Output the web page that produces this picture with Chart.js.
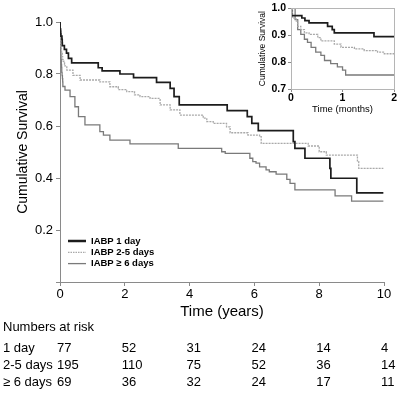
<!DOCTYPE html>
<html><head><meta charset="utf-8">
<script src="https://cdn.jsdelivr.net/npm/chart.js@4/dist/chart.umd.min.js"></script>
<style>
html,body{margin:0;padding:0;background:#fff;overflow:hidden;}
#wrap{position:relative;width:397px;height:394px;overflow:hidden;}
#main{position:absolute;left:0;top:0;width:397px;height:394px;}
#inset{position:absolute;left:250px;top:0;width:147px;height:118px;}
</style></head><body>
<div id="wrap">
<canvas id="main" width="397" height="394"></canvas>
<canvas id="inset" width="147" height="118"></canvas>
</div>
<script>
// ---- Data ----
const seriesNames = ['IABP 1 day', 'IABP 2-5 days', 'IABP \u2265 6 days'];

// Main chart (time in years)
const yearsDay1 = [0, 0.002, 0.018, 0.023, 0.029, 0.059, 0.068, 0.071, 0.135, 0.2, 0.26, 0.36, 1.18, 1.3, 1.85, 2.27, 2.98, 3.40, 3.52, 3.68, 5.16, 5.78, 5.92, 6.12, 7.20, 7.25, 7.56, 8.33, 8.36, 9.16, 9.98];
const survDay1  = [1.0, 0.973, 0.964, 0.954, 0.946, 0.933, 0.921, 0.909, 0.895, 0.88, 0.86, 0.843, 0.824, 0.812, 0.80, 0.786, 0.768, 0.745, 0.713, 0.681, 0.659, 0.636, 0.61, 0.582, 0.54, 0.514, 0.476, 0.437, 0.399, 0.343, 0.343];

const yearsDay25 = [0, 0.003, 0.008, 0.011, 0.016, 0.022, 0.029, 0.043, 0.048, 0.07, 0.081, 0.1, 0.118, 0.14, 0.15, 0.21, 0.4, 0.62, 1.23, 1.54, 1.8, 2.06, 2.3, 2.47, 2.78, 3.09, 3.40, 3.70, 4.42, 4.53, 4.73, 5.14, 5.25, 5.8, 6.16, 6.21, 7.66, 8.0, 8.22, 9.18, 9.22, 9.98];
const survDay25  = [1.0, 0.964, 0.952, 0.933, 0.921, 0.909, 0.903, 0.891, 0.879, 0.867, 0.855, 0.849, 0.843, 0.837, 0.831, 0.815, 0.795, 0.777, 0.77, 0.751, 0.74, 0.732, 0.72, 0.713, 0.706, 0.681, 0.662, 0.642, 0.63, 0.617, 0.61, 0.597, 0.574, 0.565, 0.559, 0.533, 0.523, 0.501, 0.488, 0.463, 0.437, 0.437];

const yearsDay6 = [0, 0.007, 0.011, 0.016, 0.022, 0.027, 0.033, 0.04, 0.048, 0.054, 0.064, 0.075, 0.083, 0.088, 0.154, 0.31, 0.46, 0.57, 0.77, 1.23, 1.34, 1.54, 2.16, 3.65, 4.99, 5.1, 5.86, 5.95, 6.05, 6.16, 6.36, 6.46, 6.67, 7.0, 7.1, 7.25, 8.49, 9.0, 9.98];
const survDay6  = [1.0, 0.958, 0.921, 0.903, 0.885, 0.873, 0.855, 0.837, 0.825, 0.806, 0.794, 0.782, 0.770, 0.752, 0.738, 0.713, 0.674, 0.636, 0.604, 0.578, 0.565, 0.546, 0.531, 0.514, 0.501, 0.495, 0.476, 0.463, 0.457, 0.443, 0.431, 0.424, 0.415, 0.395, 0.379, 0.354, 0.331, 0.311, 0.311];

// Inset (time in months)
const monthsDay1 = [0, 0.01, 0.21, 0.27, 0.35, 0.71, 0.80, 0.84, 1.61, 2.0];
const insetDay1  = [1.0, 0.973, 0.964, 0.954, 0.946, 0.933, 0.921, 0.909, 0.895, 0.895];
const monthsDay25 = [0, 0.03, 0.1, 0.13, 0.19, 0.26, 0.35, 0.52, 0.58, 0.84, 0.97, 1.23, 1.42, 1.68, 1.81, 2.0];
const insetDay25  = [1.0, 0.964, 0.952, 0.933, 0.921, 0.909, 0.903, 0.891, 0.879, 0.867, 0.855, 0.849, 0.843, 0.837, 0.831, 0.831];
const monthsDay6 = [0, 0.08, 0.13, 0.19, 0.26, 0.32, 0.39, 0.48, 0.58, 0.65, 0.77, 0.9, 1.0, 1.06, 2.0];
const insetDay6  = [1.0, 0.958, 0.921, 0.903, 0.885, 0.873, 0.855, 0.837, 0.825, 0.806, 0.794, 0.782, 0.770, 0.752, 0.752];

// Numbers at risk
const riskTitle = 'Numbers at risk';
const riskTimes = [0, 2, 4, 6, 8, 10];
const riskLabels = ['1 day', '2-5 days', '\u2265 6 days'];
const riskDay1 = [77, 52, 31, 24, 14, 4];
const riskDay25 = [195, 110, 75, 52, 36, 14];
const riskDay6 = [69, 36, 32, 24, 17, 11];

// ---- Styles ----
const FONT = "'Liberation Sans', Arial, Helvetica, sans-serif";
const colors = ['#1c1c1c', '#a9a9a9', '#7a7a7a'];
const widths = [1.7, 1.3, 1.3];
const dashes = [[], [2, 1], []];

function pts(xs, ys) { return xs.map((x, i) => ({x: x, y: ys[i]})); }
function makeDatasets(sets) {
  return sets.map((s, i) => ({
    label: seriesNames[i], data: pts(s[0], s[1]), borderColor: colors[i],
    borderWidth: widths[i], borderDash: dashes[i], stepped: true,
    pointRadius: 0, fill: false, tension: 0
  }));
}

const legendPlugin = {
  id: 'kmLegend',
  afterDraw(chart) {
    const ctx = chart.ctx, ca = chart.chartArea;
    ctx.save();
    chart.data.datasets.forEach((ds, i) => {
      const y = ca.top + 219 + i * 11.3;
      ctx.beginPath();
      ctx.strokeStyle = ds.borderColor;
      ctx.lineWidth = i === 0 ? 2.5 : 1.3;
      ctx.setLineDash(i === 1 ? [1.5, 1] : []);
      ctx.moveTo(ca.left + 8, y);
      ctx.lineTo(ca.left + 26, y);
      ctx.stroke();
      ctx.setLineDash([]);
      ctx.fillStyle = '#000';
      ctx.font = 'bold 9.5px ' + FONT;
      ctx.textBaseline = 'middle';
      ctx.textAlign = 'left';
      ctx.fillText(ds.label, ca.left + 31, y);
    });
    ctx.restore();
  }
};

const riskPlugin = {
  id: 'riskTable',
  afterDraw(chart) {
    const ctx = chart.ctx, xs = chart.scales.x;
    ctx.save();
    ctx.fillStyle = '#000';
    ctx.font = '13px ' + FONT;
    ctx.textBaseline = 'middle';
    ctx.textAlign = 'left';
    ctx.fillText(riskTitle, 3, 327);
    const rows = [riskDay1, riskDay25, riskDay6];
    rows.forEach((row, r) => {
      const y = 348 + r * 17;
      ctx.fillText(riskLabels[r], 3, y);
      row.forEach((n, j) => {
        ctx.fillText(String(n), xs.getPixelForValue(riskTimes[j]) - 3, y);
      });
    });
    ctx.restore();
  }
};

const boxPlugin = {
  id: 'insetBox',
  afterDraw(chart) {
    const ctx = chart.ctx, ca = chart.chartArea;
    ctx.save();
    ctx.strokeStyle = '#b5b5b5';
    ctx.lineWidth = 1;
    ctx.strokeRect(Math.round(ca.left) + 0.5, Math.round(ca.top) + 0.5, Math.round(ca.right - ca.left), Math.round(ca.bottom - ca.top));
    ctx.restore();
  }
};

new Chart(document.getElementById('main'), {
  type: 'line',
  data: { datasets: makeDatasets([[yearsDay1, survDay1], [yearsDay25, survDay25], [yearsDay6, survDay6]]) },
  options: {
    responsive: false, animation: false, devicePixelRatio: 1,
    layout: { padding: { top: 22, right: 13, bottom: 72, left: 0 } },
    plugins: { legend: { display: false }, tooltip: { enabled: false } },
    scales: {
      x: {
        type: 'linear', min: 0, max: 10,
        afterFit(s) { s.height = 40; },
        ticks: { stepSize: 2, color: '#000', font: { family: FONT, size: 13 }, padding: 1, maxRotation: 0 },
        grid: { drawOnChartArea: false, tickLength: 4, tickColor: '#8a8a8a' },
        border: { color: '#8a8a8a', width: 1 },
        title: { display: true, text: 'Time (years)', color: '#000', font: { family: FONT, size: 15 }, padding: { top: 0, bottom: 1 } }
      },
      y: {
        type: 'linear', min: 0, max: 1,
        afterFit(s) { s.width = 60; },
        ticks: { stepSize: 0.2, color: '#000', font: { family: FONT, size: 13 }, padding: 3,
          callback: v => (Math.abs(v) < 1e-9 ? '' : v.toFixed(1)) },
        grid: { drawOnChartArea: false, tickLength: 4, tickColor: '#8a8a8a' },
        border: { color: '#8a8a8a', width: 1 },
        title: { display: true, text: 'Cumulative Survival', color: '#000', font: { family: FONT, size: 14 }, padding: { top: 15, bottom: 0 } }
      }
    }
  },
  plugins: [legendPlugin, riskPlugin]
});

new Chart(document.getElementById('inset'), {
  type: 'line',
  data: { datasets: makeDatasets([[monthsDay1, insetDay1], [monthsDay25, insetDay25], [monthsDay6, insetDay6]]) },
  options: {
    responsive: false, animation: false, devicePixelRatio: 1,
    layout: { padding: { top: 7, right: 2, bottom: 0, left: 0 } },
    plugins: { legend: { display: false }, tooltip: { enabled: false } },
    scales: {
      x: {
        type: 'linear', min: 0, max: 2,
        afterFit(s) { s.height = 29; },
        ticks: { stepSize: 1, color: '#000', font: { family: FONT, size: 10.5, weight: 'bold' }, padding: 0, maxRotation: 0 },
        grid: { drawOnChartArea: false, tickLength: 3, tickColor: '#8a8a8a' },
        border: { color: '#8a8a8a', width: 1 },
        title: { display: true, text: 'Time (months)', color: '#000', font: { family: FONT, size: 9.5 }, padding: { top: 0, bottom: 3 } }
      },
      y: {
        type: 'linear', min: 0.7, max: 1.0,
        afterFit(s) { s.width = 41; },
        ticks: { stepSize: 0.1, color: '#000', font: { family: FONT, size: 10.5, weight: 'bold' }, padding: 2,
          callback: v => v.toFixed(1) },
        grid: { drawOnChartArea: false, tickLength: 3, tickColor: '#8a8a8a' },
        border: { color: '#8a8a8a', width: 1 },
        title: { display: true, text: 'Cumulative Survival', color: '#000', font: { family: FONT, size: 8.5 }, padding: { top: 8, bottom: 0 } }
      }
    }
  },
  plugins: [boxPlugin]
});
</script>
</body></html>
